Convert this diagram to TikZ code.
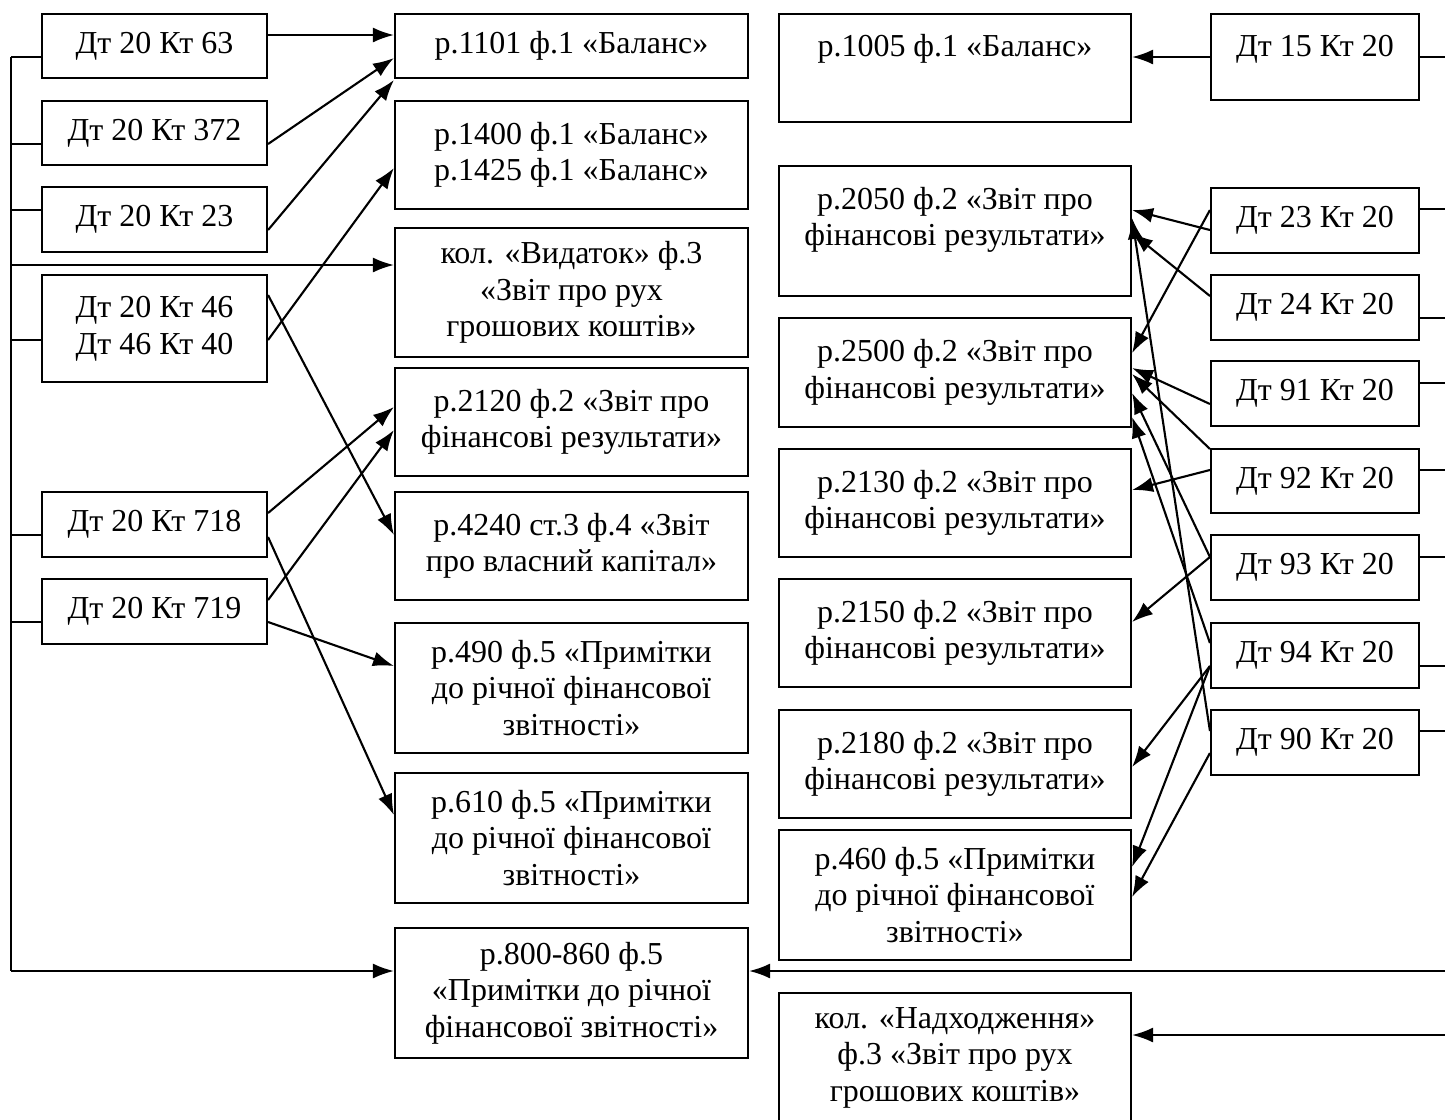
\documentclass[tikz,border=0pt]{standalone}
\usepackage{fontspec}
\setmainfont{Liberation Serif}
\usetikzlibrary{arrows.meta}
\newcommand\bbox[6]{\node[bx, minimum width={(#4-#2)*0.02cm}, minimum height={(#5-#3)*0.02cm}] (#1) at ({(#2+#4)/2},{(#3+#5)/2}) {#6};}
\tikzset{
  bx/.style={draw, line width=1.2pt, inner sep=0pt, align=center, font=\fontsize{18.2}{20.8}\selectfont},
  arr/.style={line width=1.2pt, -{Latex[length=0.42cm,width=0.3cm]}},
  ln/.style={line width=1.2pt}
}
\begin{document}
\begin{tikzpicture}[x=0.02cm,y=-0.02cm]
\useasboundingbox (0,0) rectangle (1445,1120);
\coordinate (trunk) at (11,0);
\coordinate (redge) at (1447,0);
% left column
\bbox{L63}{42}{14}{267}{78}{Дт 20 Кт 63}
\bbox{L372}{42}{101}{267}{165}{Дт 20 Кт 372}
\bbox{L23}{42}{187}{267}{252}{Дт 20 Кт 23}
\bbox{L46}{42}{275}{267}{382}{Дт 20 Кт 46\\Дт 46 Кт 40}
\bbox{L718}{42}{492}{267}{557}{Дт 20 Кт 718}
\bbox{L719}{42}{579}{267}{644}{Дт 20 Кт 719}
% middle column
\bbox{M1101}{395}{14}{748}{78}{р.1101 ф.1 «Баланс»}
\bbox{M1400}{395}{101}{748}{209}{р.1400 ф.1 «Баланс»\\р.1425 ф.1 «Баланс»}
\bbox{MVyd}{395}{228}{748}{357}{кол. «Видаток» ф.3\\«Звіт про рух\\грошових коштів»}
\bbox{M2120}{395}{368}{748}{476}{р.2120 ф.2 «Звіт про\\фінансові результати»}
\bbox{M4240}{395}{492}{748}{600}{р.4240 ст.3 ф.4 «Звіт\\про власний капітал»}
\bbox{M490}{395}{623}{748}{753}{р.490 ф.5 «Примітки\\до річної фінансової\\звітності»}
\bbox{M610}{395}{773}{748}{903}{р.610 ф.5 «Примітки\\до річної фінансової\\звітності»}
\bbox{M800}{395}{928}{748}{1058}{р.800-860 ф.5\\«Примітки до річної\\фінансової звітності»}
% right-middle column
\bbox{R1005}{779}{14}{1131}{122}{р.1005 ф.1 «Баланс»\\[4.5pt]\mbox{}}
\bbox{R2050}{779}{166}{1131}{296}{р.2050 ф.2 «Звіт про\\фінансові результати»\\[-4pt]\mbox{}}
\bbox{R2500}{779}{318}{1131}{427}{р.2500 ф.2 «Звіт про\\фінансові результати»}
\bbox{R2130}{779}{449}{1131}{557}{р.2130 ф.2 «Звіт про\\фінансові результати»}
\bbox{R2150}{779}{579}{1131}{687}{р.2150 ф.2 «Звіт про\\фінансові результати»}
\bbox{R2180}{779}{710}{1131}{818}{р.2180 ф.2 «Звіт про\\фінансові результати»}
\bbox{R460}{779}{830}{1131}{960}{р.460 ф.5 «Примітки\\до річної фінансової\\звітності»}
\bbox{RNad}{779}{993}{1131}{1122}{кол. «Надходження»\\ф.3 «Звіт про рух\\грошових коштів»}
% right column
\bbox{D15}{1211}{14}{1419}{100}{Дт 15 Кт 20\\[-8pt]\mbox{}}
\bbox{D23}{1211}{188}{1419}{253}{Дт 23 Кт 20}
\bbox{D24}{1211}{275}{1419}{340}{Дт 24 Кт 20}
\bbox{D91}{1211}{361}{1419}{426}{Дт 91 Кт 20}
\bbox{D92}{1211}{449}{1419}{513}{Дт 92 Кт 20}
\bbox{D93}{1211}{535}{1419}{600}{Дт 93 Кт 20}
\bbox{D94}{1211}{623}{1419}{688}{Дт 94 Кт 20}
\bbox{D90}{1211}{710}{1419}{775}{Дт 90 Кт 20}
% left trunk
\draw[ln] (trunk |- 0,57) -- (trunk |- 0,971);
\draw[ln] (L63.west |- 0,57) -- (trunk |- 0,57);
\draw[ln] (L372.west |- 0,144) -- (trunk |- 0,144);
\draw[ln] (L23.west |- 0,210) -- (trunk |- 0,210);
\draw[ln] (L46.west |- 0,340) -- (trunk |- 0,340);
\draw[ln] (L718.west |- 0,535) -- (trunk |- 0,535);
\draw[ln] (L719.west |- 0,622) -- (trunk |- 0,622);
% left arrows
\draw[arr] (L63.east |- 0,35) -- (M1101.west |- 0,35);
\draw[arr] (L372.east |- 0,144) -- (M1101.west |- 0,58);
\draw[arr] (L23.east |- 0,230) -- (M1101.west |- 0,80);
\draw[arr] (L46.east |- 0,340) -- (M1400.west |- 0,168);
\draw[arr] (trunk |- 0,265) -- (MVyd.west |- 0,265);
\draw[arr] (L46.east |- 0,295) -- (M4240.west |- 0,535);
\draw[arr] (L718.east |- 0,513) -- (M2120.west |- 0,407);
\draw[arr] (L719.east |- 0,600) -- (M2120.west |- 0,430);
\draw[arr] (L719.east |- 0,622) -- (M490.west |- 0,666);
\draw[arr] (L718.east |- 0,537) -- (M610.west |- 0,815);
\draw[arr] (trunk |- 0,971) -- (M800.west |- 0,971);
% right stubs
\draw[ln] (D15.east |- 0,57) -- (redge |- 0,57);
\draw[ln] (D23.east |- 0,209) -- (redge |- 0,209);
\draw[ln] (D24.east |- 0,318) -- (redge |- 0,318);
\draw[ln] (D91.east |- 0,383) -- (redge |- 0,383);
\draw[ln] (D92.east |- 0,470) -- (redge |- 0,470);
\draw[ln] (D93.east |- 0,557) -- (redge |- 0,557);
\draw[ln] (D94.east |- 0,666) -- (redge |- 0,666);
\draw[ln] (D90.east |- 0,731) -- (redge |- 0,731);
% right arrows
\draw[arr] (D15.west |- 0,57) -- (R1005.east |- 0,57);
\draw[arr] (D23.west |- 0,230) -- (R2050.east |- 0,210);
\draw[arr] (D23.west |- 0,210) -- (R2500.east |- 0,353);
\draw[arr] (D24.west |- 0,296) -- (R2050.east |- 0,233);
\draw[arr] (D90.west |- 0,731) -- (R2050.east |- 0,218);
\draw[arr] (D91.west |- 0,404) -- (R2500.east |- 0,368);
\draw[arr] (D92.west |- 0,449) -- (R2500.east |- 0,374);
\draw[arr] (D93.west |- 0,557) -- (R2500.east |- 0,393);
\draw[arr] (D94.west |- 0,643) -- (R2500.east |- 0,417);
\draw[arr] (D92.west |- 0,470) -- (R2130.east |- 0,490);
\draw[arr] (D93.west |- 0,557) -- (R2150.east |- 0,622);
\draw[arr] (D94.west |- 0,666) -- (R2180.east |- 0,767);
\draw[arr] (D94.west |- 0,666) -- (R460.east |- 0,867);
\draw[arr] (D90.west |- 0,753) -- (R460.east |- 0,897);
\draw[arr] (redge |- 0,971) -- (M800.east |- 0,971);
\draw[arr] (redge |- 0,1035) -- (RNad.east |- 0,1035);
\end{tikzpicture}
\end{document}
